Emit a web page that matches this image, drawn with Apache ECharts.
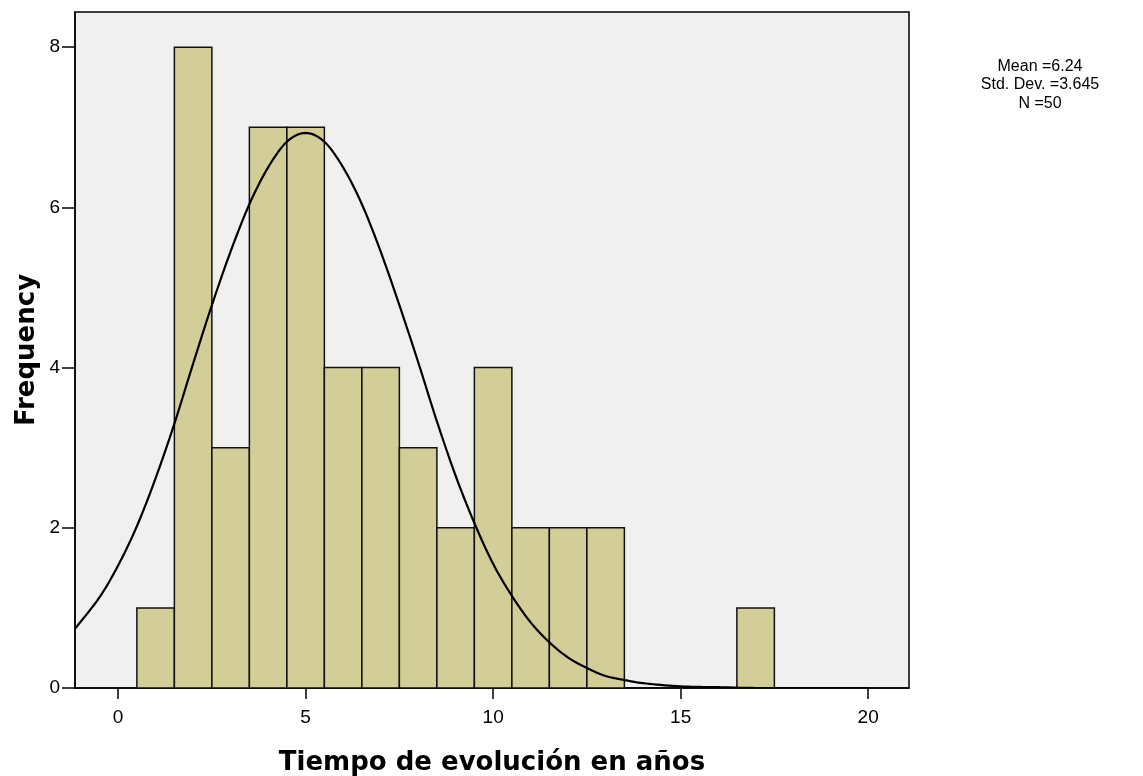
<!DOCTYPE html>
<html>
<head>
<meta charset="utf-8">
<script src="https://cdn.jsdelivr.net/npm/echarts@6/dist/echarts.min.js"></script>
<style>html,body{margin:0;padding:0;background:#fff}#c{width:1143px;height:776px}</style>
</head>
<body>
<div id="c"></div>
<script>
// Histogram bins (bin centers, width 1) and counts
var binCenters = [1, 2, 3, 4, 5, 6, 7, 8, 9, 10, 11, 12, 13, 14, 15, 16, 17];
var counts     = [1, 8, 3, 7, 7, 4, 4, 3, 2, 4, 2, 2, 2, 0, 0, 0, 1];
// Normal curve
var curveX = [-1.15, -0.5, 0, 0.5, 1, 1.5, 2, 2.5, 3, 3.5, 4, 4.5, 5, 5.5, 6, 6.5, 7, 7.5, 8, 8.5, 9, 9.5, 10, 10.5, 11, 11.5, 12, 12.5, 13, 13.5, 14, 15, 16, 17, 18, 19, 20];
var curveY = [0.74, 1.13, 1.53, 2.02, 2.62, 3.3, 4.05, 4.78, 5.45, 6.04, 6.5, 6.82, 6.93, 6.82, 6.5, 6.04, 5.45, 4.78, 4.07, 3.33, 2.65, 2.06, 1.55, 1.15, 0.82, 0.57, 0.38, 0.25, 0.15, 0.1, 0.06, 0.02, 0.01, 0.0, 0.0, 0.0, 0.0];
var xTicks = [0, 5, 10, 15, 20];
var yTicks = [0, 2, 4, 6, 8];
var statsLines = ['Mean =6.24', 'Std. Dev. =3.645', 'N =50'];

var barData = binCenters.map(function (c, i) { return [c, counts[i]]; }).filter(function (d) { return d[1] > 0; });
var curveData = curveX.map(function (x, i) { return [x, curveY[i]]; });

// Catmull-Rom spline through pixel points
function spline(pts, steps) {
  var out = [];
  for (var i = 0; i < pts.length - 1; i++) {
    var p0 = pts[Math.max(i - 1, 0)], p1 = pts[i], p2 = pts[i + 1], p3 = pts[Math.min(i + 2, pts.length - 1)];
    for (var s = 0; s < steps; s++) {
      var t = s / steps, t2 = t * t, t3 = t2 * t;
      out.push([0, 1].map(function (k) {
        return 0.5 * ((2 * p1[k]) + (-p0[k] + p2[k]) * t + (2 * p0[k] - 5 * p1[k] + 4 * p2[k] - p3[k]) * t2 + (-p0[k] + 3 * p1[k] - 3 * p2[k] + p3[k]) * t3);
      }));
    }
  }
  out.push(pts[pts.length - 1]);
  return out;
}

var chart = echarts.init(document.getElementById('c'), null, {renderer: 'canvas'});
var FONT = '"Liberation Sans", Arial, sans-serif';
var TFONT = '"DejaVu Sans", sans-serif';
chart.setOption({
  animation: false,
  backgroundColor: '#fff',
  grid: {left: 75, right: 234, top: 12, bottom: 88, outerBoundsMode: 'none', containLabel: false, show: true, backgroundColor: '#F0F0F0', borderColor: '#000', borderWidth: 1.5},
  xAxis: {
    type: 'value', min: -1.15, max: 21.09,
    name: 'Tiempo de evolución en años', nameLocation: 'middle', nameGap: 62, nameMoveOverlap: false,
    nameTextStyle: {fontFamily: TFONT, fontSize: 26, fontWeight: 'bold', color: '#000'},
    axisLine: {show: true, onZero: false, lineStyle: {color: '#000', width: 1.5}},
    axisTick: {show: true, length: 11, customValues: xTicks, lineStyle: {color: '#000', width: 1.5}},
    axisLabel: {customValues: xTicks, margin: 20, fontFamily: FONT, fontSize: 19, color: '#000'},
    splitLine: {show: false}
  },
  yAxis: {
    type: 'value', min: 0, max: 8.44,
    name: 'Frequency', nameLocation: 'middle', nameGap: 35, nameRotate: 90, nameMoveOverlap: false,
    nameTextStyle: {fontFamily: TFONT, fontSize: 26, fontWeight: 'bold', color: '#000'},
    axisLine: {show: true, onZero: false, lineStyle: {color: '#000', width: 1.5}},
    axisTick: {show: true, length: 13, customValues: yTicks, lineStyle: {color: '#000', width: 1.5}},
    axisLabel: {customValues: yTicks, margin: 15, fontFamily: FONT, fontSize: 19, color: '#000'},
    splitLine: {show: false}
  },
  series: [
    {
      type: 'custom',
      data: barData,
      clip: true,
      renderItem: function (params, api) {
        var c = api.value(0), v = api.value(1);
        var p0 = api.coord([c - 0.5, v]);
        var p1 = api.coord([c + 0.5, 0]);
        return {
          type: 'rect',
          shape: {x: p0[0], y: p0[1], width: p1[0] - p0[0], height: p1[1] - p0[1]},
          style: {fill: '#D3CE98', stroke: '#111', lineWidth: 1.5}
        };
      },
      z: 2
    },
    {
      type: 'custom',
      data: [0],
      clip: true,
      renderItem: function (params, api) {
        var pts = curveData.map(function (d) { return api.coord(d); });
        return {
          type: 'polyline',
          shape: {points: spline(pts, 10)},
          style: {stroke: '#000', lineWidth: 2.2, fill: null}
        };
      },
      z: 3
    }
  ],
  graphic: [
    {
      type: 'text', x: 1040, y: 57,
      style: {text: statsLines.join('\n'), textAlign: 'center', fontFamily: FONT, fontSize: 16, lineHeight: 18.5, fill: '#000'}
    }
  ]
});
</script>
</body>
</html>
